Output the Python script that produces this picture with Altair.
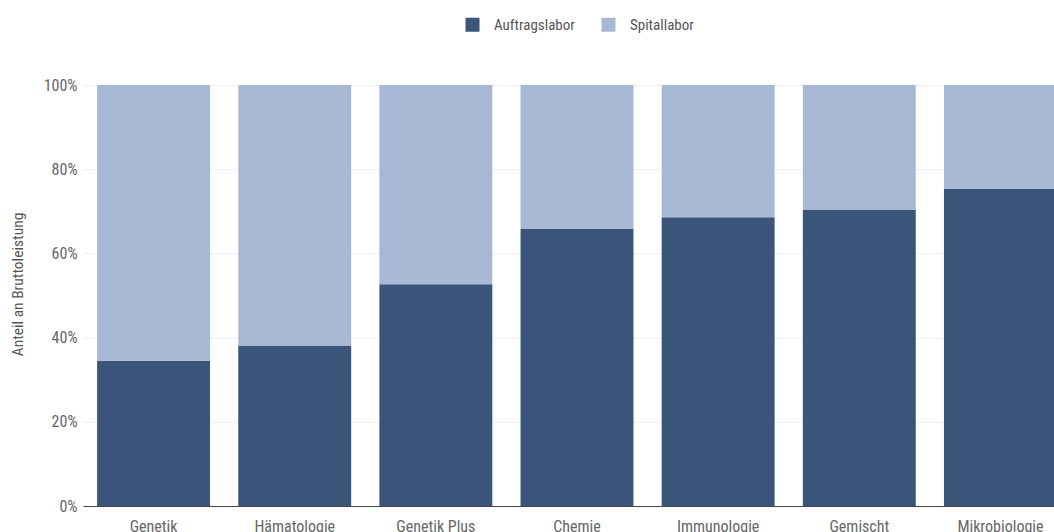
import altair as alt
import pandas as pd

categories = ["Genetik", "Hämatologie", "Genetik Plus", "Chemie", "Immunologie", "Gemischt", "Mikrobiologie"]
auftragslabor = [34.5, 38.0, 52.7, 65.8, 68.6, 70.3, 75.3]
spitallabor = [65.5, 62.0, 47.3, 34.2, 31.4, 29.7, 24.7]
series = ["Auftragslabor", "Spitallabor"]
colors = ["#3b547a", "#a7b8d4"]

rows = []
for c, a, s in zip(categories, auftragslabor, spitallabor):
    rows.append({"Kategorie": c, "Typ": series[0], "Wert": a, "rank": 0})
    rows.append({"Kategorie": c, "Typ": series[1], "Wert": s, "rank": 1})
df = pd.DataFrame(rows)

FONT = "'Roboto Condensed', 'Arial Narrow', Roboto, sans-serif"

chart = alt.Chart(df).mark_bar().encode(
    x=alt.X("Kategorie:N", sort=categories, title=None,
            scale=alt.Scale(paddingInner=0.2, paddingOuter=0.1, range=[0, 988]),
            axis=alt.Axis(labelAngle=0, domainColor="#444", ticks=False,
                          labelColor="#666", labelFontSize=16, labelPadding=12,
                          labelFont=FONT)),
    y=alt.Y("Wert:Q", stack="normalize", title="Anteil an Bruttoleistung",
            axis=alt.Axis(format="%", values=[0, 0.2, 0.4, 0.6, 0.8, 1.0],
                          domain=False, ticks=False, gridColor="#eeeeee",
                          labelColor="#666", labelFontSize=16, labelPadding=6,
                          labelFont=FONT, titleFont=FONT, titleFontSize=15.5,
                          titleFontWeight="normal", titleColor="#555",
                          titlePadding=18, titleY=199)),
    color=alt.Color("Typ:N", sort=series,
                    scale=alt.Scale(domain=series, range=colors),
                    legend=alt.Legend(title=None, orient="none", direction="horizontal",
                                      legendX=382, legendY=-68,
                                      symbolType="square", symbolSize=196,
                                      symbolStrokeWidth=0, symbolOpacity=1,
                                      labelFont=FONT, labelFontSize=15, labelColor="#555",
                                      labelOffset=14, columnPadding=26)),
    order=alt.Order("rank:Q", sort="ascending"),
).properties(
    width=971, height=421,
    autosize=alt.AutoSizeParams(type="none"),
    padding={"left": 83, "top": 85, "right": 0, "bottom": 26}
).configure_view(stroke=None)

chart.save("out.html", embed_options={"renderer": "svg", "actions": False})
